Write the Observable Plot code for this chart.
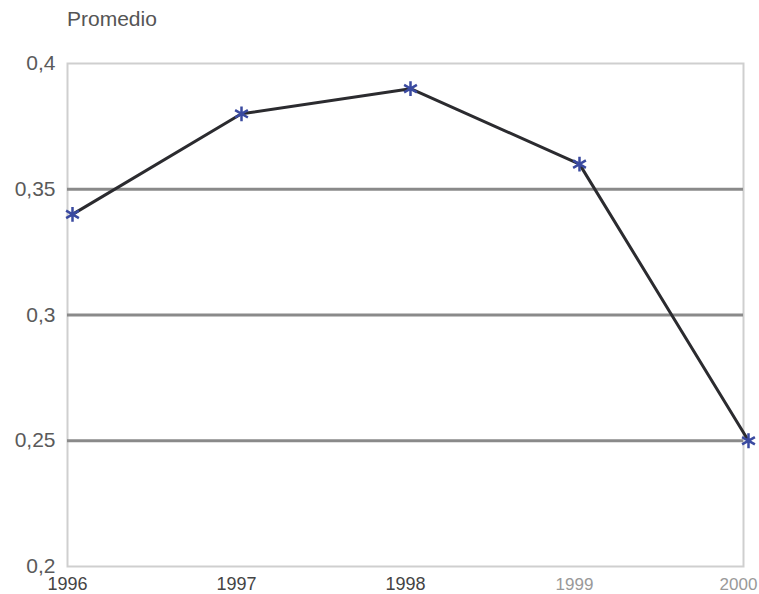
<!DOCTYPE html>
<html>
<head>
<meta charset="utf-8">
<script src="https://cdn.jsdelivr.net/npm/d3@7"></script>
<script src="https://cdn.jsdelivr.net/npm/@observablehq/plot@0.6"></script>
<style>
  html, body { margin: 0; padding: 0; background: #fff; }
  #wrap { position: relative; width: 759px; height: 594px; }
  #title { position: absolute; left: 67px; top: 7px; font-family: "Liberation Sans", Arial, sans-serif; font-size: 21px; color: #555; }
</style>
</head>
<body>
<div id="wrap"><div id="title">Promedio</div></div>
<script>
const years = [1996, 1997, 1998, 1999, 2000];
const promedio = [0.34, 0.38, 0.39, 0.36, 0.25];
const yTicks = [0.2, 0.25, 0.3, 0.35, 0.4];
const yTickLabels = ["0,2", "0,25", "0,3", "0,35", "0,4"];
const gridValues = [0.25, 0.3, 0.35];

const data = years.map((year, i) => ({year, value: promedio[i]}));
const fontFam = "'Liberation Sans', Arial, sans-serif";

const chart = Plot.plot({
  width: 759,
  height: 594,
  marginTop: 63,
  marginBottom: 28,
  marginLeft: 67,
  marginRight: 16,
  style: {fontFamily: fontFam, background: "#fff", overflow: "visible"},
  x: {type: "linear", domain: [1996, 2000]},
  y: {domain: [0.2, 0.4]},
  marks: [
    Plot.frame({stroke: "#cfcfcf", strokeWidth: 2}),
    Plot.ruleY(gridValues, {stroke: "#8a8a8a", strokeWidth: 3}),
    Plot.axisY({ticks: yTicks, tickFormat: (d, i) => yTickLabels[i], tickSize: 0, tickPadding: 12, fontSize: 21, fill: "#5a5a5a", label: null}),
    Plot.axisX({ticks: years.slice(0, 3), tickFormat: d => String(d), tickSize: 0, tickPadding: 11, fontSize: 18, fill: "#444", label: null}),
    Plot.axisX({ticks: years.slice(3, 4), tickFormat: d => String(d), tickSize: 0, tickPadding: 11, fontSize: 17, fill: "#999", label: null}),
    Plot.axisX({ticks: years.slice(4), tickFormat: d => String(d), tickSize: 0, tickPadding: 11, fontSize: 17, fill: "#999", label: null, dx: -5}),
    Plot.line(data, {x: "year", y: "value", stroke: "#2b2b2f", strokeWidth: 3, dx: 5}),
    Plot.dot(data, {x: "year", y: "value", symbol: "asterisk", r: 7, stroke: "#3a4aa0", strokeWidth: 2.5, dx: 5})
  ]
});
document.getElementById("wrap").appendChild(chart);
</script>
</body>
</html>
